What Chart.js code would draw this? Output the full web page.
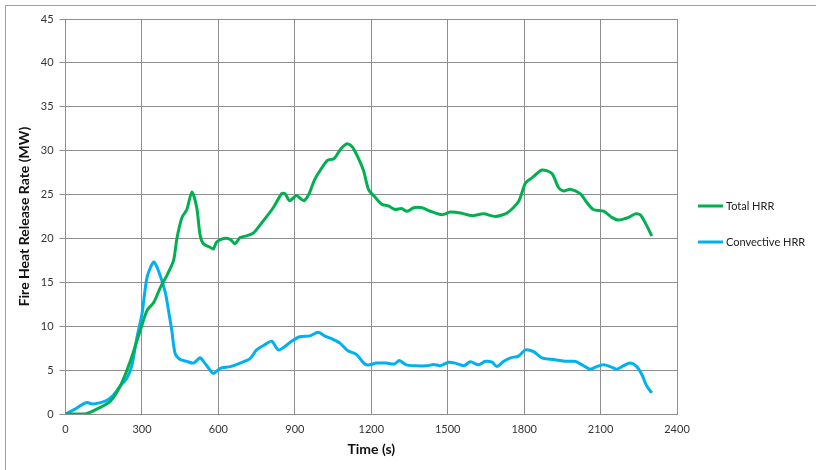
<!DOCTYPE html>
<html lang="en">
<head>
    <meta charset="UTF-8">
    <title>Fire Heat Release Rate</title>
    <script src="https://cdn.jsdelivr.net/npm/chart.js"></script>
    <style>
        body { margin: 0; background: #fff; }
        .frame { position: absolute; left: 5px; top: 5px; width: 830px; height: 480px; border: 1px solid #a0a0a0; }
        .wrap { position: absolute; left: 0; top: 0; width: 816px; height: 470px; }
    </style>
</head>
<body>
    <div class="frame"></div>
    <div class="wrap">
        <canvas id="hrr" width="816" height="470"></canvas>
    </div>
    <script>
        // Total HRR
        const timeTotal = [0, 78, 137, 176, 215, 254, 293, 320, 346, 372, 398, 424, 437, 457, 476, 496, 515, 528, 541, 567, 580, 593, 620, 646, 665, 685, 711, 737, 776, 815, 848, 861, 880, 906, 924, 937, 956, 976, 996, 1028, 1054, 1080, 1106, 1126, 1150, 1170, 1189, 1215, 1241, 1267, 1293, 1319, 1340, 1367, 1399, 1432, 1478, 1510, 1550, 1595, 1641, 1687, 1733, 1778, 1805, 1831, 1870, 1909, 1935, 1955, 1981, 2020, 2046, 2072, 2112, 2144, 2170, 2210, 2236, 2255, 2275, 2301];
        const totalHRR = [0, 0, 0.76, 1.45, 3.2, 6.0, 9.5, 11.8, 12.7, 14.4, 15.8, 17.5, 20, 22.4, 23.3, 25.3, 23.5, 20.4, 19.4, 19, 18.8, 19.6, 20, 19.9, 19.4, 20.1, 20.3, 20.6, 22, 23.5, 25.1, 25.1, 24.3, 24.9, 24.5, 24.3, 25.1, 26.6, 27.6, 28.9, 29.1, 30.2, 30.8, 30.4, 29.1, 27.7, 25.6, 24.7, 23.9, 23.7, 23.3, 23.4, 23.1, 23.5, 23.5, 23.1, 22.7, 23.0, 22.9, 22.6, 22.8, 22.5, 22.9, 24.2, 26.3, 26.9, 27.8, 27.4, 25.8, 25.4, 25.6, 25.1, 24.1, 23.3, 23.1, 22.4, 22.1, 22.4, 22.8, 22.7, 21.8, 20.3];

        // Convective HRR
        const timeConv = [0, 33, 65, 85, 104, 137, 163, 189, 215, 241, 261, 280, 300, 320, 346, 365, 391, 404, 417, 430, 450, 476, 502, 528, 541, 567, 580, 607, 646, 685, 724, 750, 783, 809, 835, 861, 887, 920, 959, 991, 1017, 1050, 1076, 1108, 1141, 1174, 1193, 1219, 1258, 1291, 1310, 1337, 1373, 1419, 1445, 1471, 1504, 1530, 1563, 1589, 1621, 1648, 1674, 1693, 1720, 1746, 1778, 1805, 1837, 1870, 1916, 1968, 2001, 2033, 2059, 2085, 2112, 2138, 2164, 2190, 2216, 2242, 2262, 2281, 2301];
        const convHRR = [0, 0.5, 1.07, 1.3, 1.15, 1.3, 1.56, 2.2, 3.2, 4.1, 5.6, 8.7, 11.4, 15.6, 17.3, 16.3, 13.9, 11.8, 9.5, 6.9, 6.2, 6.0, 5.8, 6.4, 6.0, 5.0, 4.6, 5.2, 5.4, 5.8, 6.3, 7.3, 7.9, 8.3, 7.3, 7.7, 8.3, 8.8, 8.9, 9.3, 8.9, 8.5, 8.1, 7.2, 6.8, 5.7, 5.6, 5.8, 5.8, 5.7, 6.1, 5.6, 5.5, 5.5, 5.65, 5.5, 5.9, 5.8, 5.5, 5.95, 5.6, 6.0, 5.9, 5.4, 6.0, 6.4, 6.6, 7.3, 7.1, 6.4, 6.2, 6.0, 6.0, 5.5, 5.1, 5.4, 5.6, 5.4, 5.1, 5.5, 5.8, 5.4, 4.5, 3.2, 2.4];

        const seriesNames = ["Total HRR", "Convective HRR"];
        const xTicks = [0, 300, 600, 900, 1200, 1500, 1800, 2100, 2400];
        const yTicks = [0, 5, 10, 15, 20, 25, 30, 35, 40, 45];

        function points(xs, ys) {
            return xs.map((x, i) => ({ x: x, y: ys[i] }));
        }

        const FONT = "Lato, 'Open Sans', sans-serif";
        const GRID = "#8e8e8e";

        // legend drawn on the right, Excel style (line sample + label)
        const sideLegend = {
            id: "sideLegend",
            afterDraw(chart) {
                const ctx = chart.ctx;
                const x0 = chart.chartArea.right + 21;
                const rows = [206, 242];
                ctx.save();
                ctx.font = "11px " + FONT;
                ctx.textBaseline = "middle";
                chart.data.datasets.forEach((ds, i) => {
                    ctx.strokeStyle = ds.borderColor;
                    ctx.lineWidth = 3;
                    ctx.beginPath();
                    ctx.moveTo(x0, rows[i]);
                    ctx.lineTo(x0 + 25, rows[i]);
                    ctx.stroke();
                    ctx.fillStyle = "#222";
                    ctx.fillText(ds.label, x0 + 28, rows[i]);
                });
                ctx.restore();
            }
        };

        new Chart(document.getElementById("hrr").getContext("2d"), {
            type: "line",
            data: {
                datasets: [{
                    label: seriesNames[0],
                    data: points(timeTotal, totalHRR),
                    borderColor: "#00b050",
                    borderWidth: 3,
                    pointRadius: 0,
                    tension: 0.25
                }, {
                    label: seriesNames[1],
                    data: points(timeConv, convHRR),
                    borderColor: "#00b0f0",
                    borderWidth: 3,
                    pointRadius: 0,
                    tension: 0.25
                }]
            },
            options: {
                responsive: false,
                animation: false,
                layout: { padding: { left: 12, top: 19, right: 139, bottom: 8 } },
                plugins: {
                    tooltip: { enabled: false },
                    legend: { display: false }
                },
                scales: {
                    x: {
                        type: "linear",
                        min: 0,
                        max: 2400,
                        afterBuildTicks: axis => { axis.ticks = xTicks.map(v => ({ value: v })); },
                        grid: { color: GRID, drawTicks: false },
                        border: { color: GRID },
                        ticks: { color: "#333", font: { family: FONT, size: 11 }, padding: 9, maxRotation: 0, callback: v => String(v) },
                        title: { display: true, text: "Time (s)", color: "#111", font: { family: FONT, size: 14, weight: "bold" }, padding: { top: -4, bottom: 4 } }
                    },
                    y: {
                        min: 0,
                        max: 45,
                        afterBuildTicks: axis => { axis.ticks = yTicks.map(v => ({ value: v })); },
                        grid: { color: GRID, tickLength: 6, drawTicks: true },
                        border: { color: GRID },
                        ticks: { color: "#333", font: { family: FONT, size: 11 }, padding: 6, callback: v => String(v) },
                        title: { display: true, text: "Fire Heat Release Rate (MW)", color: "#111", font: { family: FONT, size: 14, weight: "bold" }, padding: { bottom: 2 } }
                    }
                }
            },
            plugins: [sideLegend]
        });
    </script>
</body>
</html>
